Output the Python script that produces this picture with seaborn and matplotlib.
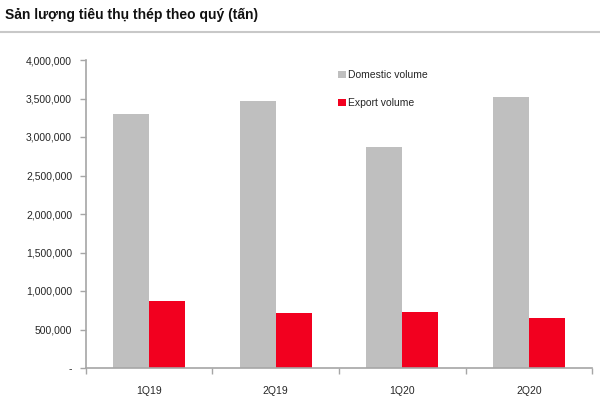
import pandas as pd
import seaborn as sns
import matplotlib.pyplot as plt
from matplotlib.patches import Patch
from matplotlib.ticker import FuncFormatter

# Data (tonnes)
quarters = ['1Q19', '2Q19', '1Q20', '2Q20']
domestic = [3300000, 3470000, 2870000, 3515000]
export = [870000, 720000, 730000, 650000]
series_names = ['Domestic volume', 'Export volume']
colors = ['#BFBFBF', '#F2001F']

df = pd.DataFrame({
    'quarter': quarters * 2,
    'series': [series_names[0]] * 4 + [series_names[1]] * 4,
    'value': domestic + export,
})

sns.set_style('white')
plt.rcParams['font.family'] = ['Liberation Sans', 'DejaVu Sans']

fig = plt.figure(figsize=(6, 4), dpi=100)
ax = fig.add_axes([0.1433, 0.08, 0.8434, 0.77])

sns.barplot(data=df, x='quarter', y='value', hue='series', palette=colors,
            saturation=1, width=0.57, gap=0, ax=ax, legend=False, edgecolor='none')

ax.set_xlim(-0.5, 3.5)
ax.set_ylim(0, 4000000)
ax.set_yticks(range(0, 4000001, 500000))
ax.yaxis.set_major_formatter(FuncFormatter(lambda v, p: '-' if v == 0 else f'{int(v):,}'))
ax.set_xlabel('')
ax.set_ylabel('')

for side in ['top', 'right']:
    ax.spines[side].set_visible(False)
for side in ['left', 'bottom']:
    ax.spines[side].set_color('#A6A6A6')
    ax.spines[side].set_linewidth(1.2)

ax.tick_params(axis='y', direction='out', length=4, width=1, color='#A6A6A6',
               pad=6, labelsize=7.5, left=True)
ax.set_xticks([-0.5, 0.5, 1.5, 2.5, 3.5], minor=True)
ax.tick_params(axis='x', which='minor', direction='out', length=4, width=1, color='#A6A6A6', bottom=True)
ax.tick_params(axis='x', which='major', length=0, pad=13, labelsize=7.5)

handles = [Patch(facecolor=c, edgecolor='none') for c in colors]
fig.legend(handles, series_names, loc='upper left', bbox_to_anchor=(0.563, 0.825),
           frameon=False, fontsize=7.5, handlelength=0.75, handleheight=0.75,
           handletextpad=0.25, labelspacing=1.75, borderpad=0, borderaxespad=0)

fig.text(0.008, 0.962, 'Sản lượng tiêu thụ thép theo quý (tấn)', fontsize=10,
         fontweight='bold', ha='left', va='center', color='#111111')
fig.add_artist(plt.Line2D([0, 1], [0.92, 0.92], color='#C8C8C8', linewidth=1.5,
                          transform=fig.transFigure))

fig.savefig('out.png', dpi=100)
